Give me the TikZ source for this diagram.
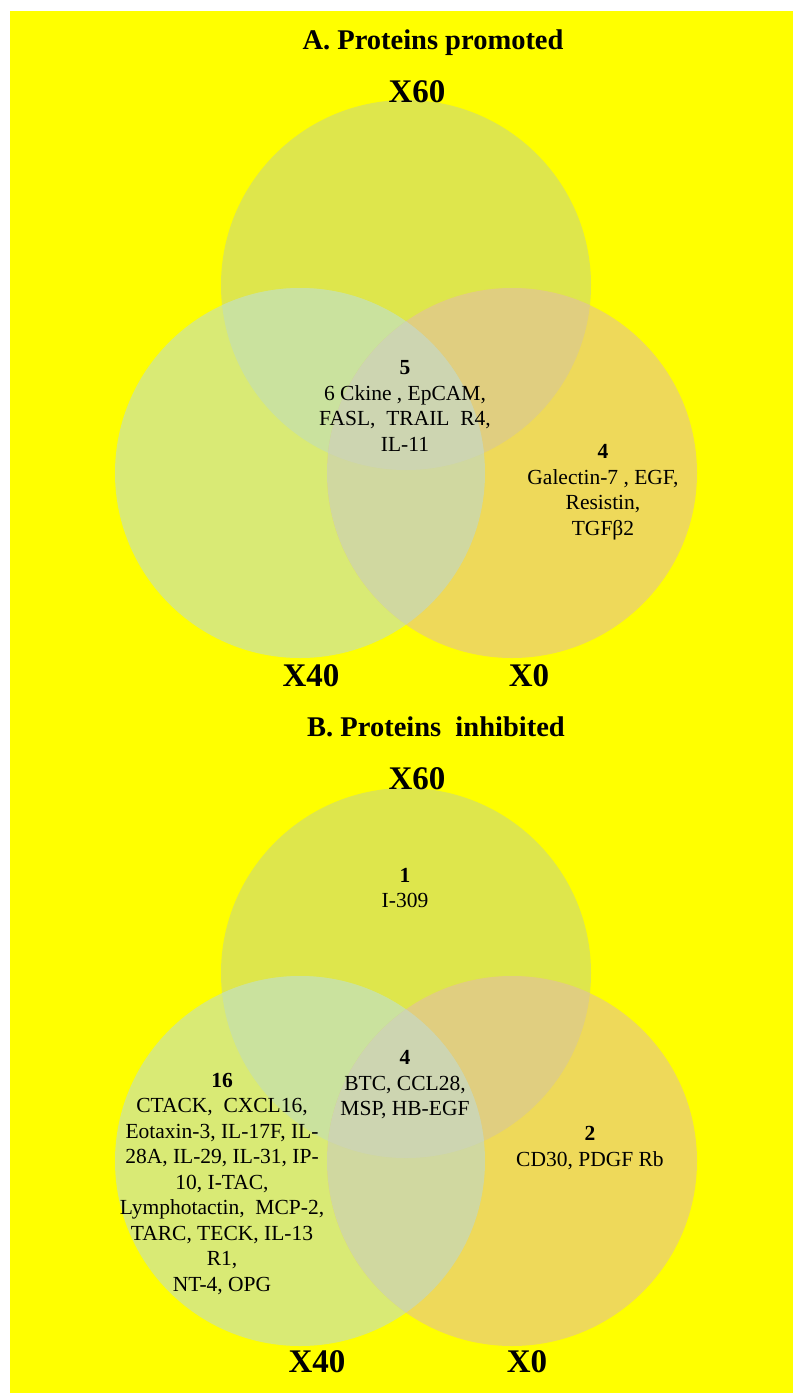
\documentclass[tikz,border=0pt]{standalone}
\usepackage{fontspec}
\setmainfont{Liberation Serif}
\usepackage{tikz}
\usetikzlibrary{positioning,calc}
\definecolor{bgyellow}{RGB}{255,255,0}
\definecolor{onlyT}{RGB}{222,230,76}
\definecolor{onlyL}{RGB}{217,234,117}
\definecolor{onlyR}{RGB}{238,217,90}
\definecolor{capTL}{RGB}{202,226,158}
\definecolor{capTR}{RGB}{224,206,128}
\definecolor{capLR}{RGB}{208,216,160}
\definecolor{capTLR}{RGB}{205,213,177}

\begin{document}
\begin{tikzpicture}[x=1pt,y=-1pt,
    title/.style={font=\fontsize{28.5}{32}\selectfont\bfseries, inner sep=0pt},
    setlabel/.style={font=\fontsize{33}{36}\selectfont\bfseries, inner sep=0pt},
    region/.style={font=\fontsize{21.5}{25.5}\selectfont, align=center, inner sep=0pt}]
    \useasboundingbox (0,0) rectangle (793,1393);
    % Background
    \fill[bgyellow] (10,11) rectangle (793,1393);

    \def\rad{185}
    % Both diagrams: top (X60), left (X40), right (X0)
    \foreach \oy in {0,688} {
        \coordinate (T) at (406,{285+\oy});
        \coordinate (L) at (300,{473+\oy});
        \coordinate (R) at (512,{473+\oy});
        \fill[onlyT] (T) circle (\rad);
        \fill[onlyL] (L) circle (\rad);
        \fill[onlyR] (R) circle (\rad);
        % pairwise overlaps
        \begin{scope}
            \clip (T) circle (\rad);
            \fill[capTL] (L) circle (\rad);
            \fill[capTR] (R) circle (\rad);
        \end{scope}
        \begin{scope}
            \clip (L) circle (\rad);
            \fill[capLR] (R) circle (\rad);
        \end{scope}
        % centre
        \begin{scope}
            \clip (T) circle (\rad);
            \clip (L) circle (\rad);
            \fill[capTLR] (R) circle (\rad);
        \end{scope}
    }

    % A. Proteins promoted
    \node[title] (titleA) at (433,43) {A. Proteins promoted};
    \node[setlabel] (xsixtyA) at (417,92) {X60};
    \node[setlabel] (xfortyA) at (311,676) {X40};
    \node[setlabel] (xzeroA) at (529,676) {X0};
    \node[region] (allA) at (405,406) {\textbf{5}\\6 Ckine , EpCAM,\\FASL,~ TRAIL~ R4,\\IL-11};
    \node[region] (zeroA) at (603,492) {\textbf{4}\\Galectin-7 , EGF,\\Resistin,\\TGFβ2};

    % B. Proteins inhibited
    \node[title] (titleB) at (436,727) {B. Proteins~ inhibited};
    \node[setlabel] (xsixtyB) at (417,779) {X60};
    \node[setlabel] (xfortyB) at (317,1362) {X40};
    \node[setlabel] (xzeroB) at (527,1362) {X0};
    \node[region] (sixtyB) at (405,888) {\textbf{1}\\I-309};
    \node[region] (allB) at (405,1085) {\textbf{4}\\BTC, CCL28,\\MSP, HB-EGF};
    \node[region] (fortyB) at (222,1184) {\textbf{16}\\CTACK,~ CXCL16,\\Eotaxin-3, IL-17F, IL-\\28A, IL-29, IL-31, IP-\\10, I-TAC,\\Lymphotactin,~ MCP-2,\\TARC, TECK, IL-13\\R1,\\NT-4, OPG};
    \node[region] (zeroB) at (590,1148) {\textbf{2}\\CD30, PDGF Rb};
\end{tikzpicture}
\end{document}
